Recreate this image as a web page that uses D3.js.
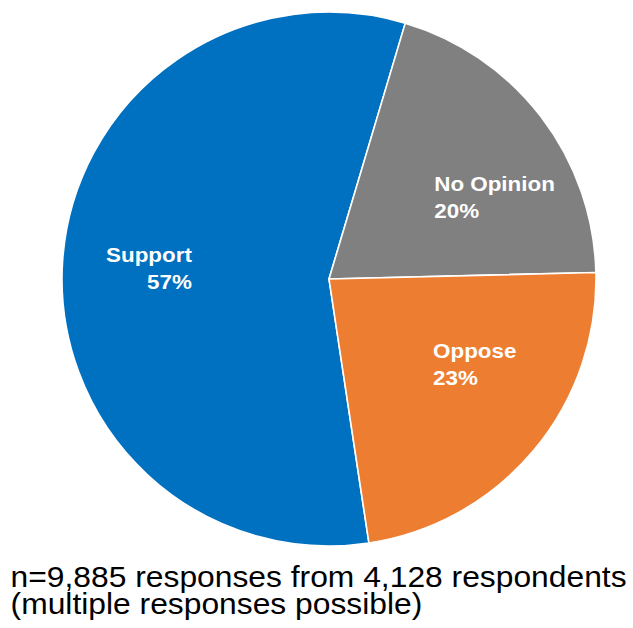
<!DOCTYPE html>
<html>
<head>
<meta charset="utf-8">
<script src="https://cdn.jsdelivr.net/npm/d3@7"></script>
<style>
  html, body { margin: 0; padding: 0; background: #fff; }
  svg { display: block; }
  text { font-family: "Liberation Sans", Arial, sans-serif; }
</style>
</head>
<body>
<svg id="chart" width="633" height="628"></svg>
<script>
// Survey responses by position (percent of responses)
const categories = ["Support", "No Opinion", "Oppose"];
const values = [57, 20, 23];
const colors = ["#0070C0", "#808080", "#ED7D31"];
const footnote = [
  "n=9,885 responses from 4,128 respondents",
  "(multiple responses possible)"
];

const width = 633, height = 628;
const cx = 329, cy = 279, radius = 267;

const svg = d3.select("#chart");
const g = svg.append("g").attr("transform", `translate(${cx},${cy})`);

const color = d3.scaleOrdinal().domain(categories).range(colors);

// Support is drawn first, ending where No Opinion begins (just right of 12 o'clock)
const deg = Math.PI / 180;
const pie = d3.pie()
  .sort(null)
  .value(d => d.value)
  .startAngle(-188.6 * deg)
  .endAngle(171.4 * deg);

const data = categories.map((c, i) => ({ category: c, value: values[i] }));
const arcs = pie(data);

const arc = d3.arc().innerRadius(0).outerRadius(radius);
const labelArc = d3.arc().innerRadius(radius * 0.68).outerRadius(radius * 0.68);

g.selectAll("path.slice")
  .data(arcs)
  .join("path")
  .attr("class", "slice")
  .attr("d", arc)
  .attr("fill", d => color(d.data.category))
  .attr("stroke", "#fff")
  .attr("stroke-width", 1.6)
  .attr("stroke-linejoin", "round");

// Label placement: nudged from the slice centroid, text block aligned toward the centre
const labelNudge = {
  "Support":    { dx: 44,  dy: -4,  anchor: "end" },
  "No Opinion": { dx: -39, dy: 22,  anchor: "start" },
  "Oppose":     { dx: -35, dy: -38, anchor: "start" }
};
const labelSize = 20, labelStretch = 1.12, lineGap = 27;

const labels = g.selectAll("g.label")
  .data(arcs)
  .join("g")
  .attr("class", "label")
  .attr("transform", d => {
    const [x, y] = labelArc.centroid(d);
    const n = labelNudge[d.data.category];
    return `translate(${x + n.dx},${y + n.dy}) scale(${labelStretch},1)`;
  });

labels.append("text")
  .attr("text-anchor", d => labelNudge[d.data.category].anchor)
  .attr("fill", "#fff")
  .attr("font-weight", "bold")
  .attr("font-size", labelSize)
  .selectAll("tspan")
  .data(d => [d.data.category, d3.format(".0f")(d.data.value) + "%"])
  .join("tspan")
  .attr("x", 0)
  .attr("y", (t, i) => i * lineGap)
  .text(t => t);

// Footnote beneath the pie
const foot = svg.append("g")
  .attr("transform", `translate(10.6,586.5) scale(1.06,1)`);
foot.append("text")
  .attr("font-size", 30)
  .attr("fill", "#000")
  .selectAll("tspan")
  .data(footnote)
  .join("tspan")
  .attr("x", 0)
  .attr("y", (t, i) => i * 28)
  .text(t => t);
</script>
</body>
</html>
